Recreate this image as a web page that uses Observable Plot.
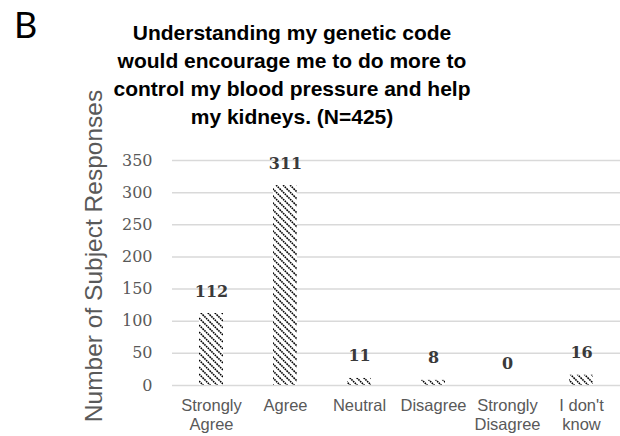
<!DOCTYPE html>
<html>
<head>
<meta charset="utf-8">
<script src="https://cdn.jsdelivr.net/npm/d3@7"></script>
<script src="https://cdn.jsdelivr.net/npm/@observablehq/plot@0.6"></script>
<style>
  html, body { margin: 0; padding: 0; background: #fff; }
  #wrap { position: relative; width: 620px; height: 436px; overflow: hidden; }
  #panel { position: absolute; left: 14px; top: 2px; font: 36px Lato, sans-serif; color: #000; }
  #title { position: absolute; left: 92px; width: 400px; top: 19px; text-align: center;
           font: bold 21px "Liberation Sans", Arial, sans-serif; line-height: 28px; color: #000; white-space: nowrap; }
  #ylab { position: absolute; left: 94px; top: 256px; transform: translate(-50%, -50%) rotate(-90deg);
          white-space: nowrap; font: 24.5px "Liberation Sans", Arial, sans-serif; color: #595959; }
  #chart { position: absolute; left: 0; top: 0; }
</style>
</head>
<body>
<div id="wrap">
  <div id="chart"></div>
  <div id="panel">B</div>
  <div id="title">Understanding my genetic code<br>would encourage me to do more to<br>control my blood pressure and help<br>my kidneys. (N=425)</div>
  <div id="ylab">Number of Subject Responses</div>
</div>
<script>
const categories = ["Strongly\nAgree", "Agree", "Neutral", "Disagree", "Strongly\nDisagree", "I don't\nknow"];
const counts = [112, 311, 11, 8, 0, 16];
const yTicks = [0, 50, 100, 150, 200, 250, 300, 350];

const data = categories.map((c, i) => ({category: c, count: counts[i]}));

const chart = Plot.plot({
  width: 620,
  height: 436,
  marginTop: 160,
  marginBottom: 51,
  marginLeft: 172,
  marginRight: 0,
  style: {fontFamily: "Liberation Sans, Arial, sans-serif"},
  x: {domain: categories, paddingInner: 0.68, paddingOuter: 0.34},
  y: {domain: [0, 350], axis: null},
  marks: [
    Plot.gridY(yTicks, {stroke: "#d9d9d9", strokeOpacity: 1, strokeWidth: 1.5}),
    Plot.text(yTicks, {y: d => d, text: d => String(d), frameAnchor: "left", textAnchor: "end", dx: -20,
      fontFamily: "DejaVu Serif", fontSize: 16, fill: "#595959"}),
    Plot.axisX({tickSize: 0, tickPadding: 12, label: null,
      fontFamily: "Liberation Sans, Arial, sans-serif", fontSize: 16.5, fill: "#595959", lineHeight: 1.15}),
    Plot.barY(data, {x: "category", y: "count", fill: "url(#hatch)"}),
    Plot.text(data, {x: "category", y: "count", text: d => String(d.count), lineAnchor: "bottom", dy: -17,
      fontFamily: "DejaVu Serif", fontWeight: "bold", fontSize: 16, fill: "#3a3a3a"})
  ]
});

d3.select(chart).insert("defs", ":first-child").html(
  `<pattern id="hatch" patternUnits="userSpaceOnUse" width="7" height="7">
     <rect width="7" height="7" fill="#fff"/>
     <path d="M-2,-2 L9,9 M-9,-2 L2,9 M5,-2 L16,9" stroke="#000" stroke-width="1.6" stroke-dasharray="1.6 0.8"/>
   </pattern>`
);
document.getElementById("chart").appendChild(chart);
</script>
</body>
</html>
